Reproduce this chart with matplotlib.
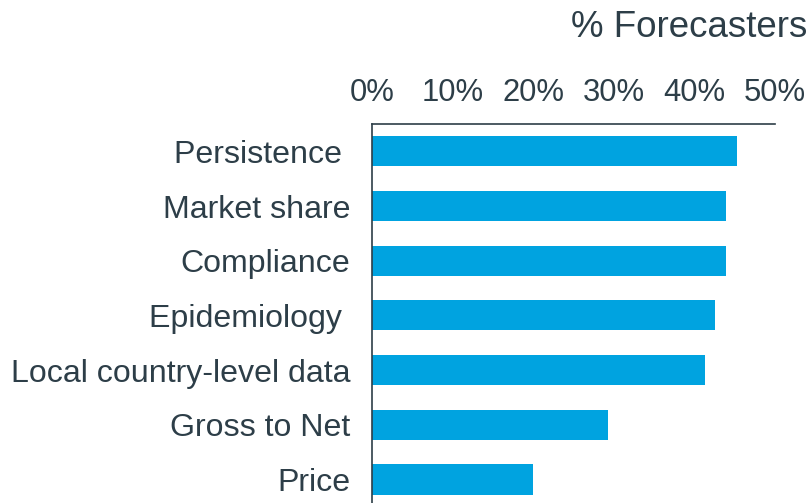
import matplotlib
matplotlib.use("Agg")
import matplotlib.pyplot as plt
from matplotlib.ticker import FuncFormatter

# data
categories = ["Persistence ", "Market share", "Compliance", "Epidemiology ",
              "Local country-level data", "Gross to Net", "Price"]
values = [45.3, 43.9, 43.9, 42.6, 41.3, 29.3, 20.0]
xticks = [0, 10, 20, 30, 40, 50]

bar_color = "#00A3E0"
text_color = "#2D3E48"

plt.rcParams["font.family"] = ["Liberation Sans", "DejaVu Sans"]

fig = plt.figure(figsize=(8.11, 5.03), dpi=100)
ax = fig.add_axes([372 / 811, 0, (775 - 372) / 811, 1 - 124 / 503])

ax.barh(range(len(categories)), values, height=0.55, color=bar_color)
ax.set_xlim(0, 50)
ax.set_ylim(6.43, -0.5)

ax.set_yticks(range(len(categories)))
ax.set_yticklabels(categories)
ax.set_xticks(xticks)
ax.xaxis.set_major_formatter(FuncFormatter(lambda v, p: f"{v:.0f}%"))
ax.xaxis.tick_top()

ax.tick_params(axis="y", length=0, pad=15.5, labelsize=23.1, labelcolor=text_color)
ax.tick_params(axis="x", length=0, pad=11.5, labelsize=22.3, labelcolor=text_color)
for lbl in ax.get_yticklabels():
    lbl.set_y(lbl.get_position()[1])

for s in ["right", "bottom"]:
    ax.spines[s].set_visible(False)
for s in ["left", "top"]:
    ax.spines[s].set_color(text_color)
    ax.spines[s].set_linewidth(1.2)

fig.text(807 / 811, 1 - 37 / 503, "% Forecasters", ha="right", va="baseline",
         fontsize=26.5, color=text_color)

fig.savefig("out.png", dpi=100)
